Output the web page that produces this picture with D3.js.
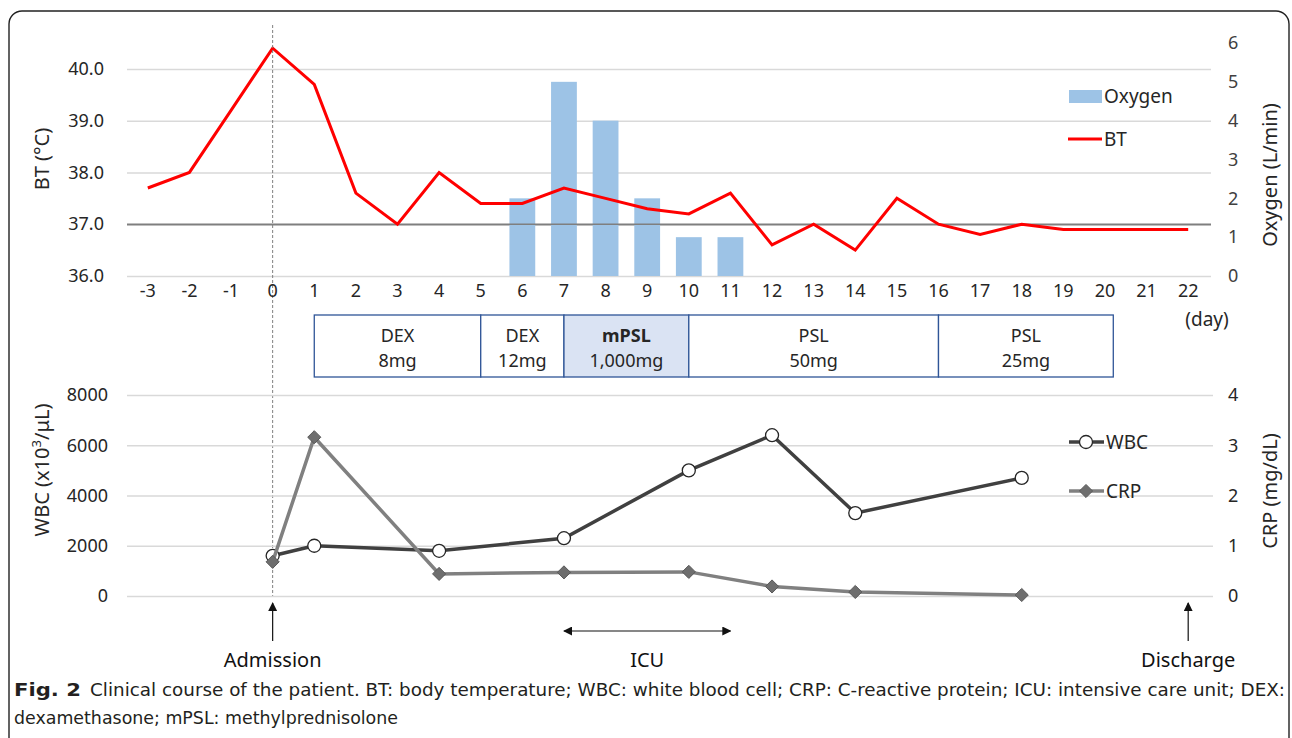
<!DOCTYPE html>
<html>
<head>
<meta charset="utf-8">
<script src="https://cdn.jsdelivr.net/npm/d3@7"></script>
<style>
  body { margin: 0; background: #fff; }
  svg { display: block; font-family: "Noto Sans", sans-serif; }
</style>
</head>
<body>
<svg id="chart" width="1292" height="738"></svg>
<script>
// ---- data ----
var days = d3.range(-3, 23);
var btValues = [37.7, 38.0, 39.2, 40.4, 39.7, 37.6, 37.0, 38.0, 37.4, 37.4, 37.7, 37.5, 37.3, 37.2, 37.6, 36.6, 37.0, 36.5, 37.5, 37.0, 36.8, 37.0, 36.9, 36.9, 36.9, 36.9];
var oxygenDays = [6, 7, 8, 9, 10, 11];
var oxygenValues = [2, 5, 4, 2, 1, 1];
var labDays = [0, 1, 4, 7, 10, 12, 14, 18];
var wbcValues = [1600, 2000, 1800, 2300, 5000, 6400, 3300, 4700];
var crpValues = [0.68, 3.16, 0.44, 0.47, 0.48, 0.19, 0.08, 0.02];
var btTicks = [36, 37, 38, 39, 40];
var oxyTicks = [0, 1, 2, 3, 4, 5, 6];
var wbcTicks = [0, 2000, 4000, 6000, 8000];
var crpTicks = [0, 1, 2, 3, 4];
var drugLabels = [["DEX", "8mg"], ["DEX", "12mg"], ["mPSL", "1,000mg"], ["PSL", "50mg"], ["PSL", "25mg"]];
var drugBounds = [1, 5, 7, 10, 16, 20.2];

var svg = d3.select("#chart");
var left = 127, right = 1209;

// frame
svg.append("rect").attr("x", 9).attr("y", 11).attr("width", 1280).attr("height", 780)
   .attr("rx", 13).attr("fill", "none").attr("stroke", "#222").attr("stroke-width", 1.4);

var xBand = d3.scaleBand().domain(days).range([left, right]).paddingInner(0.38).paddingOuter(0.19);
var step = xBand.step();
var x = d3.scaleLinear().domain([-3, 22]).range([left + step / 2, right - step / 2]);

// ---- top panel ----
var topY0 = 276, topY1 = 43;
var yBT = d3.scaleLinear().domain([36, 40.5]).range([topY0, topY1]);
var yOx = d3.scaleLinear().domain([0, 6]).range([topY0, topY1]);

svg.append("g").attr("transform", "translate(" + left + ",0)")
   .call(d3.axisLeft(yBT).tickValues(btTicks).tickSize(-(right + 2 - left)).tickFormat(""))
   .call(function(g) {
     g.select(".domain").remove();
     g.selectAll("line").attr("stroke", function(d) { return d === 37 ? "#7f7f7f" : "#d9d9d9"; })
       .attr("stroke-width", 1.5);
   });

var gOx = svg.append("g");
gOx.selectAll("rect").data(oxygenDays).enter().append("rect")
   .attr("x", function(d) { return xBand(d); })
   .attr("width", xBand.bandwidth())
   .attr("y", function(d, i) { return yOx(oxygenValues[i]); })
   .attr("height", function(d, i) { return topY0 - yOx(oxygenValues[i]); })
   .attr("fill", "#9dc3e6");

// redraw the 37 line over the bars
svg.append("line").attr("x1", left).attr("x2", right + 2)
   .attr("y1", yBT(37)).attr("y2", yBT(37)).attr("stroke", "#7f7f7f").attr("stroke-width", 1.5);

var btLine = d3.line().x(function(d, i) { return x(days[i]); }).y(function(d) { return yBT(d); });
svg.append("path").attr("d", btLine(btValues)).attr("fill", "none")
   .attr("stroke", "#ff0000").attr("stroke-width", 3).attr("stroke-linejoin", "miter");

// admission dashed line
svg.append("line").attr("x1", x(0)).attr("x2", x(0)).attr("y1", 25).attr("y2", 596)
   .attr("stroke", "#7f7f7f").attr("stroke-width", 1).attr("stroke-dasharray", "3,2");

svg.append("g").attr("transform", "translate(" + left + ",0)")
   .call(d3.axisLeft(yBT).tickValues(btTicks).tickSize(0).tickPadding(23).tickFormat(d3.format(".1f")))
   .call(function(g) { g.select(".domain").remove(); })
   .selectAll("text").attr("font-size", 18).attr("fill", "#262626").attr("font-family", "Noto Sans");

svg.append("g").attr("transform", "translate(" + (right + 2) + ",0)")
   .call(d3.axisRight(yOx).tickValues(oxyTicks).tickSize(0).tickPadding(17).tickFormat(d3.format("d")))
   .call(function(g) { g.select(".domain").remove(); })
   .selectAll("text").attr("font-size", 18).attr("fill", "#404040").attr("font-family", "Noto Sans");

svg.append("g").attr("transform", "translate(0," + topY0 + ")")
   .call(d3.axisBottom(xBand).tickSize(0).tickPadding(8))
   .call(function(g) { g.select(".domain").remove(); })
   .selectAll("text").attr("font-size", 18).attr("fill", "#262626").attr("font-family", "Noto Sans");

svg.append("text").attr("x", 1207).attr("y", 326).attr("text-anchor", "middle")
   .attr("font-size", 19).attr("fill", "#262626").text("(day)");

svg.append("text").attr("transform", "translate(49,159) rotate(-90)").attr("text-anchor", "middle")
   .attr("font-size", 20).attr("fill", "#262626").text("BT (°C)");
svg.append("text").attr("transform", "translate(1277,175) rotate(-90)").attr("text-anchor", "middle")
   .attr("font-size", 20).attr("fill", "#262626").text("Oxygen (L/min)");

// legend top
svg.append("rect").attr("x", 1069).attr("y", 90).attr("width", 33).attr("height", 13).attr("fill", "#9dc3e6");
svg.append("text").attr("x", 1104).attr("y", 103).attr("font-size", 19).attr("fill", "#262626").text("Oxygen");
svg.append("line").attr("x1", 1068).attr("x2", 1102).attr("y1", 139).attr("y2", 139)
   .attr("stroke", "#ff0000").attr("stroke-width", 3);
svg.append("text").attr("x", 1104).attr("y", 146).attr("font-size", 19).attr("fill", "#262626").text("BT");

// ---- treatment boxes ----
var boxTop = 315, boxH = 62;
var gBox = svg.append("g");
drugLabels.forEach(function(lab, i) {
  var x0 = x(drugBounds[i]), x1 = x(drugBounds[i + 1]);
  var cx = (x0 + x1) / 2;
  gBox.append("rect").attr("x", x0).attr("y", boxTop).attr("width", x1 - x0).attr("height", boxH)
      .attr("fill", lab[0] === "mPSL" ? "#dae3f3" : "#fff").attr("stroke", "#2f5597").attr("stroke-width", 1.3);
  gBox.append("text").attr("x", cx).attr("y", 342).attr("text-anchor", "middle")
      .attr("font-size", 18).attr("fill", "#262626")
      .attr("font-weight", lab[0] === "mPSL" ? "bold" : "normal").text(lab[0]);
  gBox.append("text").attr("x", cx).attr("y", 367).attr("text-anchor", "middle")
      .attr("font-size", 18).attr("fill", "#262626").text(lab[1]);
});

// ---- bottom panel ----
var botY0 = 596, botY1 = 395;
var yWBC = d3.scaleLinear().domain([0, 8000]).range([botY0, botY1]);
var yCRP = d3.scaleLinear().domain([0, 4]).range([botY0, botY1]);

svg.append("g").attr("transform", "translate(" + left + ",0)")
   .call(d3.axisLeft(yWBC).tickValues(wbcTicks).tickSize(-(right + 4 - left)).tickFormat(""))
   .call(function(g) {
     g.select(".domain").remove();
     g.selectAll("line").attr("stroke", "#d9d9d9").attr("stroke-width", 1.5);
   });

svg.append("g").attr("transform", "translate(" + left + ",0)")
   .call(d3.axisLeft(yWBC).tickValues(wbcTicks).tickSize(0).tickPadding(19).tickFormat(d3.format("d")))
   .call(function(g) { g.select(".domain").remove(); })
   .selectAll("text").attr("font-size", 18).attr("fill", "#262626").attr("font-family", "Noto Sans");

svg.append("g").attr("transform", "translate(" + (right + 2) + ",0)")
   .call(d3.axisRight(yCRP).tickValues(crpTicks).tickSize(0).tickPadding(17).tickFormat(d3.format("d")))
   .call(function(g) { g.select(".domain").remove(); })
   .selectAll("text").attr("font-size", 18).attr("fill", "#262626").attr("font-family", "Noto Sans");

var wbcLabel = svg.append("text").attr("transform", "translate(49,470) rotate(-90)").attr("text-anchor", "middle")
   .attr("font-size", 20).attr("fill", "#262626");
wbcLabel.append("tspan").text("WBC (x10");
wbcLabel.append("tspan").attr("font-size", 13).attr("dy", -8).text("3");
wbcLabel.append("tspan").attr("dy", 8).text("/μL)");
svg.append("text").attr("transform", "translate(1277,491) rotate(-90)").attr("text-anchor", "middle")
   .attr("font-size", 20).attr("fill", "#262626").text("CRP (mg/dL)");

var wbcLine = d3.line().x(function(d, i) { return x(labDays[i]); }).y(function(d) { return yWBC(d); });
svg.append("path").attr("d", wbcLine(wbcValues)).attr("fill", "none")
   .attr("stroke", "#404040").attr("stroke-width", 3.5);
svg.append("g").selectAll("circle").data(wbcValues).enter().append("circle")
   .attr("cx", function(d, i) { return x(labDays[i]); })
   .attr("cy", function(d) { return yWBC(d); })
   .attr("r", 6.5).attr("fill", "#fff").attr("stroke", "#262626").attr("stroke-width", 1.3);

var crpLine = d3.line().x(function(d, i) { return x(labDays[i]); }).y(function(d) { return yCRP(d); });
svg.append("path").attr("d", crpLine(crpValues)).attr("fill", "none")
   .attr("stroke", "#808080").attr("stroke-width", 3.5);
var diamond = d3.symbol().type(d3.symbolDiamond2).size(110);
svg.append("g").selectAll("path").data(crpValues).enter().append("path")
   .attr("d", diamond)
   .attr("transform", function(d, i) { return "translate(" + x(labDays[i]) + "," + yCRP(d) + ")"; })
   .attr("fill", "#6e6e6e").attr("stroke", "#595959").attr("stroke-width", 1);

// legend bottom
svg.append("line").attr("x1", 1069).attr("x2", 1104).attr("y1", 442).attr("y2", 442)
   .attr("stroke", "#404040").attr("stroke-width", 3.5);
svg.append("circle").attr("cx", 1086).attr("cy", 442).attr("r", 6.5)
   .attr("fill", "#fff").attr("stroke", "#262626").attr("stroke-width", 1.3);
svg.append("text").attr("x", 1106).attr("y", 449).attr("font-size", 19).attr("fill", "#262626").text("WBC");
svg.append("line").attr("x1", 1069).attr("x2", 1104).attr("y1", 491).attr("y2", 491)
   .attr("stroke", "#808080").attr("stroke-width", 3.5);
svg.append("path").attr("d", diamond).attr("transform", "translate(1086,491)")
   .attr("fill", "#6e6e6e").attr("stroke", "#595959").attr("stroke-width", 1);
svg.append("text").attr("x", 1106).attr("y", 498).attr("font-size", 19).attr("fill", "#262626").text("CRP");

// ---- annotations ----
var defs = svg.append("defs");
defs.append("marker").attr("id", "ah").attr("viewBox", "0 0 10 10").attr("refX", 9).attr("refY", 5)
    .attr("markerWidth", 9).attr("markerHeight", 9).attr("markerUnits", "userSpaceOnUse").attr("orient", "auto")
    .append("path").attr("d", "M0,0 L10,5 L0,10 Z").attr("fill", "#111");
defs.append("marker").attr("id", "ahs").attr("viewBox", "0 0 10 10").attr("refX", 1).attr("refY", 5)
    .attr("markerWidth", 9).attr("markerHeight", 9).attr("markerUnits", "userSpaceOnUse").attr("orient", "auto")
    .append("path").attr("d", "M10,0 L0,5 L10,10 Z").attr("fill", "#111");

function upArrow(day, label) {
  svg.append("line").attr("x1", x(day)).attr("x2", x(day)).attr("y1", 641).attr("y2", 603)
     .attr("stroke", "#111").attr("stroke-width", 1.2).attr("marker-end", "url(#ah)");
  svg.append("text").attr("x", x(day)).attr("y", 667).attr("text-anchor", "middle")
     .attr("font-size", 20).attr("fill", "#111").text(label);
}
upArrow(0, "Admission");
upArrow(22, "Discharge");

svg.append("line").attr("x1", x(7)).attr("x2", x(11)).attr("y1", 631).attr("y2", 631)
   .attr("stroke", "#111").attr("stroke-width", 1.2)
   .attr("marker-end", "url(#ah)").attr("marker-start", "url(#ahs)");
svg.append("text").attr("x", (x(7) + x(11)) / 2).attr("y", 667).attr("text-anchor", "middle")
   .attr("font-size", 20).attr("fill", "#111").text("ICU");

// ---- caption ----
var cap = svg.append("g").attr("font-family", "'Liberation Sans Narrow', 'DejaVu Sans Condensed', 'Noto Sans', sans-serif")
   .attr("font-size", 17).attr("fill", "#231f20");
cap.append("text").attr("x", 14).attr("y", 696).attr("font-weight", "bold")
   .attr("textLength", 67).attr("lengthAdjust", "spacingAndGlyphs").text("Fig. 2");
cap.append("text").attr("x", 90).attr("y", 696)
   .attr("textLength", 1195).attr("lengthAdjust", "spacingAndGlyphs")
   .text("Clinical course of the patient. BT: body temperature; WBC: white blood cell; CRP: C-reactive protein; ICU: intensive care unit; DEX:");
cap.append("text").attr("x", 14).attr("y", 724)
   .attr("textLength", 384).attr("lengthAdjust", "spacingAndGlyphs")
   .text("dexamethasone; mPSL: methylprednisolone");
</script>
</body>
</html>
